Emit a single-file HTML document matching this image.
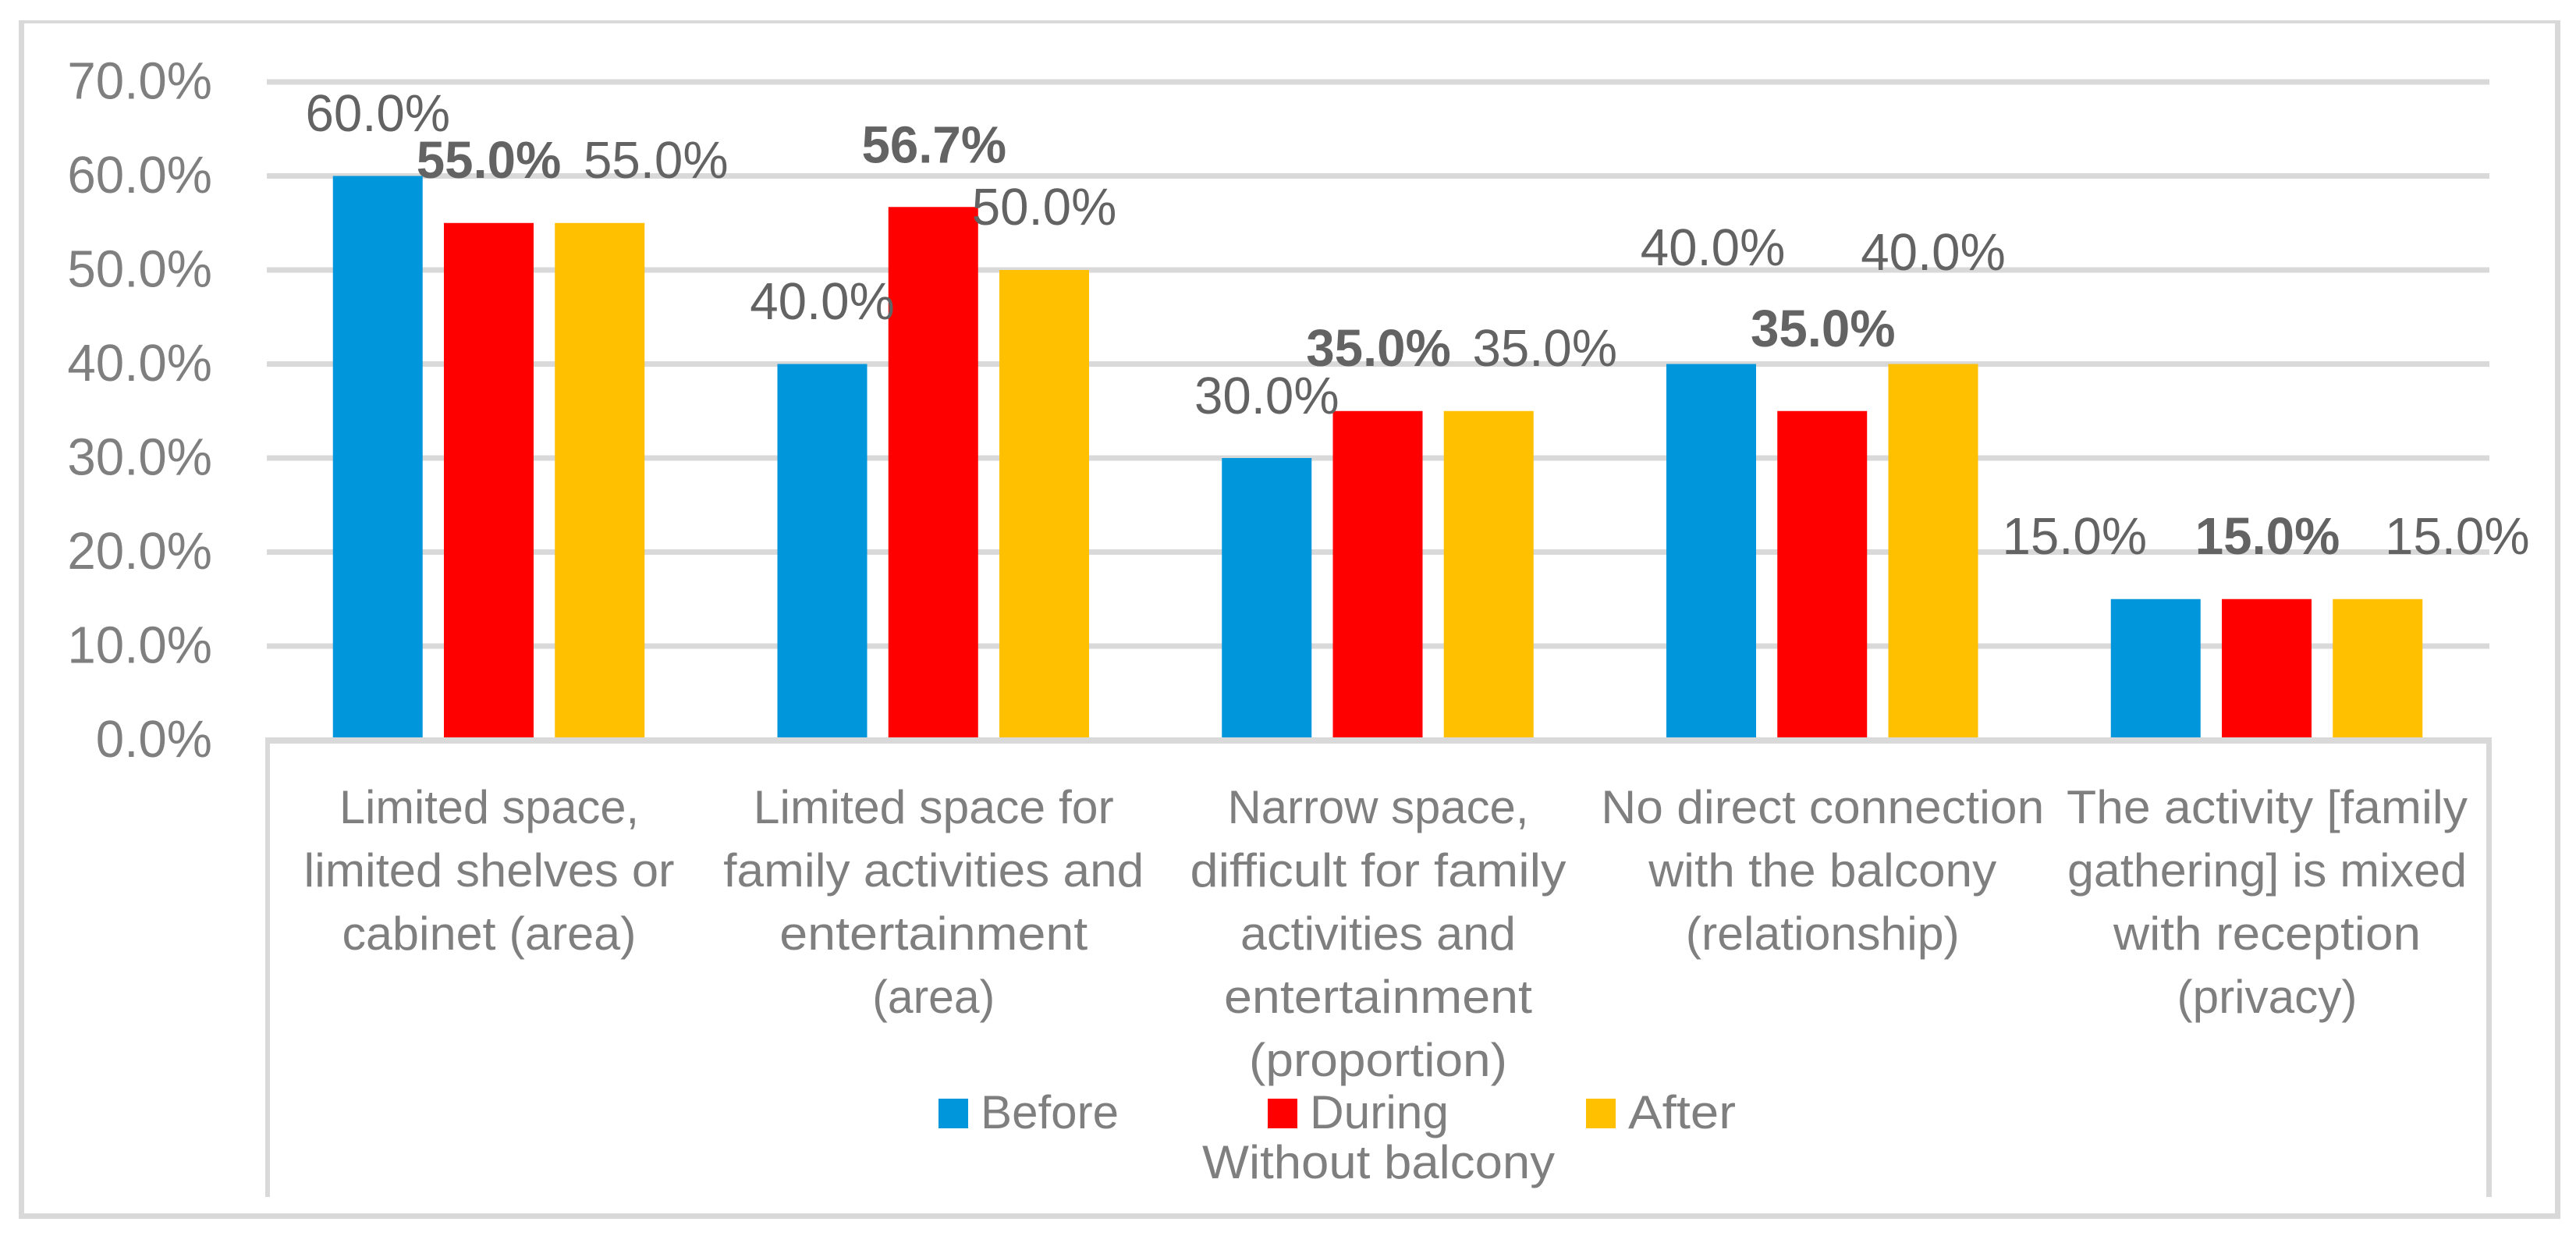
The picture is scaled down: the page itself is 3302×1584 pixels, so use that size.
<!DOCTYPE html>
<html lang="en">
<head>
<meta charset="utf-8">
<title>Without balcony chart</title>
<style>
html,body{margin:0;padding:0;background:#fff;}
body{width:3302px;height:1584px;overflow:hidden;}
svg{display:block;}
text{font-family:"Liberation Sans",sans-serif;}
</style>
</head>
<body>
<svg id="chart" xmlns="http://www.w3.org/2000/svg" width="3302" height="1584" viewBox="0 0 3302 1584">
  <rect x="0" y="0" width="3302" height="1584" fill="#ffffff"/>
  <g fill="#d9d9d9">
    <rect x="24" y="26" width="3258" height="4"/>
    <rect x="24" y="26" width="7" height="1536"/>
    <rect x="3275" y="26" width="7" height="1536"/>
    <rect x="24" y="1555" width="3258" height="7"/>
  </g>
  <g id="grid"></g>
  <g id="bars"></g>
  <g fill="#d9d9d9">
    <rect x="340" y="945" width="2854" height="8"/>
    <rect x="340" y="945" width="6" height="589"/>
    <rect x="3187" y="945" width="7" height="589"/>
  </g>
  <g id="y-ticks"></g>
  <g id="x-labels"></g>
  <g id="legend"></g>
  <text x="1767" y="1510" text-anchor="middle" font-size="60" fill="#7f7f7f" textLength="452" lengthAdjust="spacingAndGlyphs">Without balcony</text>
  <g id="data-labels"></g>
</svg>
<script>
// ---- chart data ----
const categories = [
  ["Limited space,", "limited shelves or", "cabinet (area)"],
  ["Limited space for", "family activities and", "entertainment", "(area)"],
  ["Narrow space,", "difficult for family", "activities and", "entertainment", "(proportion)"],
  ["No direct connection", "with the balcony", "(relationship)"],
  ["The activity [family", "gathering] is mixed", "with reception", "(privacy)"]
];
const seriesNames = ["Before", "During", "After"];
const beforeValues = [60.0, 40.0, 30.0, 40.0, 15.0];
const duringValues = [55.0, 56.7, 35.0, 35.0, 15.0];
const afterValues = [55.0, 50.0, 35.0, 40.0, 15.0];
const yTicks = [0, 10, 20, 30, 40, 50, 60, 70];

// ---- layout (not data) ----
const seriesValues = [beforeValues, duringValues, afterValues];
const seriesColors = ["#0096db", "#ff0000", "#ffc000"];
const boldSeries = 1;
const catLineWidths = [
  [384, 475, 377],
  [462, 539, 395, 157],
  [386, 482, 353, 395, 331],
  [568, 446, 351],
  [514, 512, 394, 231]
];
// manual placement of each printed label relative to its bar's centre/top: [dx, dy]
const labelNudges = [
  [[0, -57.5], [0, -58], [72, -58]],
  [[0, -57.5], [1, -57], [0, -58]],
  [[0, -57], [1, -58], [72, -58]],
  [[2, -126.5], [1, -83], [0, -120.5]],
  [[-104, -58], [1, -58], [102, -58]]
];
const legendSwatchX = [1203, 1625, 2033];
const legendTextWidths = [177, 178, 138];
const plotLeft = 342, plotRight = 3191;
const yZero = 948.5, yPerUnit = 12.05;
const groupStart = 626.5, groupPitch = 569.75, barPitch = 142.25, barWidth = 115;
const valueFontSize = 67, valueSqueeze = 0.977;

function yScale(v) { return yZero - v * yPerUnit; }
function groupCenter(i) { return groupStart + i * groupPitch; }
function barCenter(i, s) { return groupCenter(i) + (s - 1) * barPitch; }

const NS = "http://www.w3.org/2000/svg";
function make(tag, attrs, text) {
  const el = document.createElementNS(NS, tag);
  for (const k in attrs) el.setAttribute(k, attrs[k]);
  if (text !== undefined) el.textContent = text;
  return el;
}
function fmt(v) { return v.toFixed(1) + "%"; }
function squeeze(el) {
  el.setAttribute("textLength", (el.getComputedTextLength() * valueSqueeze).toFixed(1));
  el.setAttribute("lengthAdjust", "spacingAndGlyphs");
}

const gridG = document.getElementById("grid");
const tickG = document.getElementById("y-ticks");
yTicks.forEach(function (t) {
  if (t !== 0) {
    const line = make("rect", { x: plotLeft, y: yScale(t) - 3.5, width: plotRight - plotLeft, height: 7, fill: "#d9d9d9" });
    
    
    gridG.appendChild(line);
  }
  const label = make("text", { x: 272, y: yScale(t) + 21.5, "text-anchor": "end", "font-size": valueFontSize, fill: "#7f7f7f" }, fmt(t));
  
  
  tickG.appendChild(label);
  squeeze(label);
});

const barG = document.getElementById("bars");
const dataG = document.getElementById("data-labels");
categories.forEach(function (cat, i) {
  seriesValues.forEach(function (vals, s) {
    const top = yScale(vals[i]);
    const bar = make("rect", { x: barCenter(i, s) - barWidth / 2, y: top, width: barWidth, height: yZero - top, fill: seriesColors[s] });
    
    
    barG.appendChild(bar);

    const nudge = labelNudges[i][s];
    const lab = make("text", {
      x: barCenter(i, s) + nudge[0], y: top + nudge[1], "text-anchor": "middle",
      "font-size": valueFontSize, fill: "#636363", "font-weight": s === boldSeries ? "bold" : "normal"
    }, fmt(vals[i]));
    
    
    dataG.appendChild(lab);
    squeeze(lab);
  });
});

const catG = document.getElementById("x-labels");
categories.forEach(function (lines, i) {
  lines.forEach(function (line, j) {
    const t = make("text", {
      x: groupCenter(i) + 0.5, y: 1055 + j * 81, "text-anchor": "middle", "font-size": 60, fill: "#7f7f7f",
      textLength: catLineWidths[i][j], lengthAdjust: "spacingAndGlyphs"
    }, line);
    
    
    catG.appendChild(t);
  });
});

const legG = document.getElementById("legend");
seriesNames.forEach(function (name, s) {
  const sw = make("rect", { x: legendSwatchX[s], y: 1408, width: 38, height: 38, fill: seriesColors[s] });
  
  
  legG.appendChild(sw);
  const t = make("text", {
    x: legendSwatchX[s] + 54, y: 1446, "font-size": 60, fill: "#7f7f7f",
    textLength: legendTextWidths[s], lengthAdjust: "spacingAndGlyphs"
  }, name);
  
  
  legG.appendChild(t);
});
</script>
</body>
</html>
